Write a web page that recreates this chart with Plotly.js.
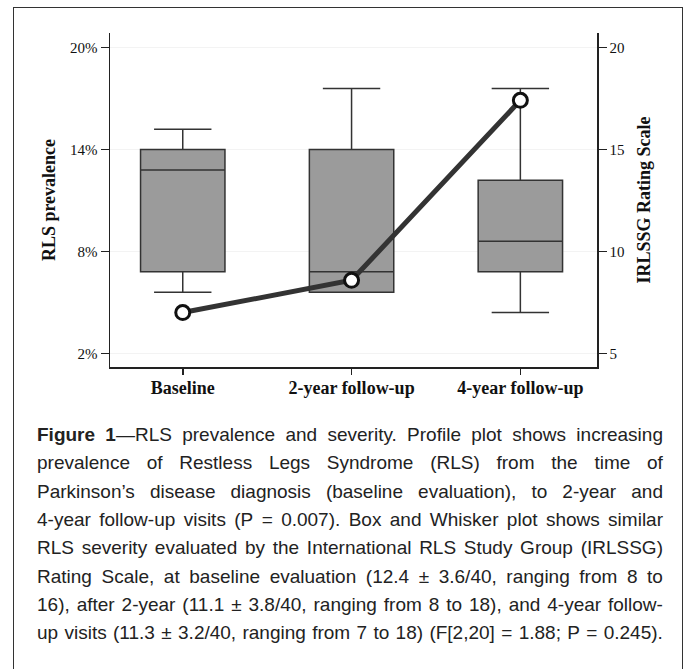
<!DOCTYPE html>
<html>
<head>
<meta charset="utf-8">
<script src="https://cdn.plot.ly/plotly-3.0.1.min.js"></script>
<style>
html,body{margin:0;padding:0;background:#fff;overflow:hidden;}
#wrap{position:relative;width:689px;height:669px;}
#chart{position:absolute;left:0;top:0;width:689px;height:669px;}
#frame{position:absolute;left:13px;top:7px;width:670px;height:720px;border:1.5px solid #333;box-sizing:border-box;pointer-events:none;}
#caption{position:absolute;left:37px;top:421px;width:626px;font-family:'Liberation Sans',Arial,sans-serif;font-size:19px;color:#222;}
.cl{display:flex;justify-content:space-between;height:28.33px;line-height:28.33px;white-space:nowrap;}
</style>
</head>
<body>
<div id="wrap">
  <div id="chart"></div>
  <div id="frame"></div>
  <div id="caption"></div>
</div>
<script>
// ---- data ----
const categories = ['Baseline', '2-year follow-up', '4-year follow-up'];
// RLS prevalence (%) – profile line, left axis
const prevalence = [4.4, 6.3, 16.9];
// IRLSSG Rating Scale – box & whisker, right axis
const irlssgMin    = [8, 8, 7];
const irlssgQ1     = [9, 8, 9];
const irlssgMedian = [14, 9, 10.5];
const irlssgQ3     = [15, 15, 13.5];
const irlssgMax    = [16, 18, 18];
const prevalenceTicks = [2, 8, 14, 20];
const prevalenceTickLabels = ['2%', '8%', '14%', '20%'];
const irlssgTicks = [5, 10, 15, 20];

const captionLines = [
  '<b>Figure</b> <b>1</b>—RLS prevalence and severity. Profile plot shows increasing',
  'prevalence of Restless Legs Syndrome (RLS) from the time of',
  'Parkinson’s disease diagnosis (baseline evaluation), to 2-year and',
  '4-year follow-up visits (P = 0.007). Box and Whisker plot shows similar',
  'RLS severity evaluated by the International RLS Study Group (IRLSSG)',
  'Rating Scale, at baseline evaluation (12.4 ± 3.6/40, ranging from 8 to',
  '16), after 2-year (11.1 ± 3.8/40, ranging from 8 to 18), and 4-year follow-',
  'up visits (11.3 ± 3.2/40, ranging from 7 to 18) (F[2,20] = 1.88; P = 0.245).'
];

// ---- traces ----
const serif = "'Liberation Serif', 'Times New Roman', serif";

const boxTrace = {
  type: 'box',
  x: categories,
  lowerfence: irlssgMin,
  q1: irlssgQ1,
  median: irlssgMedian,
  q3: irlssgQ3,
  upperfence: irlssgMax,
  yaxis: 'y',
  width: 0.5,
  whiskerwidth: 0.68,
  fillcolor: '#9b9b9b',
  line: {color: '#333333', width: 1.5},
  boxpoints: false,
  hoverinfo: 'skip',
  showlegend: false
};

const lineTrace = {
  type: 'scatter',
  mode: 'lines+markers',
  x: categories,
  y: prevalence,
  yaxis: 'y2',
  line: {color: '#333333', width: 5},
  marker: {size: 14, color: '#ffffff', line: {color: '#111111', width: 3}},
  showlegend: false,
  cliponaxis: false
};

const layout = {
  width: 689,
  height: 669,
  margin: {l: 110, r: 92, t: 33, b: 302},
  paper_bgcolor: '#ffffff',
  plot_bgcolor: '#ffffff',
  showlegend: false,
  xaxis: {
    type: 'category',
    range: [-0.431, 2.454],
    showline: true,
    linecolor: '#222',
    linewidth: 1.5,
    ticks: 'outside',
    ticklen: 6,
    tickcolor: '#222',
    tickwidth: 1.5,
    showgrid: false,
    zeroline: false,
    tickfont: {family: serif, size: 18, color: '#111', weight: 'bold'},
    ticklabelstandoff: -2
  },
  // rating scale on the right (primary, so boxes sit below the profile line)
  yaxis: {
    side: 'right',
    range: [4.327, 20.722],
    tickvals: irlssgTicks,
    showline: true,
    linecolor: '#222',
    linewidth: 1.5,
    ticks: 'outside',
    ticklen: 8,
    tickcolor: '#222',
    tickwidth: 1.5,
    showgrid: true,
    gridcolor: '#f3f3f3',
    zeroline: false,
    tickfont: {family: serif, size: 15, color: '#111'},
    title: {text: 'IRLSSG Rating Scale', standoff: 14,
            font: {family: serif, size: 18, color: '#111', weight: 'bold'}}
  },
  // prevalence on the left
  yaxis2: {
    overlaying: 'y',
    side: 'left',
    range: [1.193, 20.866],
    tickmode: 'array',
    tickvals: prevalenceTicks,
    ticktext: prevalenceTickLabels,
    showline: true,
    linecolor: '#222',
    linewidth: 1.5,
    ticks: 'outside',
    ticklen: 8,
    tickcolor: '#222',
    tickwidth: 1.5,
    showgrid: false,
    zeroline: false,
    tickfont: {family: serif, size: 15, color: '#111'},
    title: {text: 'RLS prevalence', standoff: 9,
            font: {family: serif, size: 18, color: '#111', weight: 'bold'}}
  }
};

Plotly.newPlot('chart', [boxTrace, lineTrace], layout, {staticPlot: true, displayModeBar: false});

// ---- caption (justified lines) ----
const cap = document.getElementById('caption');
captionLines.forEach(function (ln) {
  const row = document.createElement('div');
  row.className = 'cl';
  ln.split(' ').forEach(function (w) {
    const s = document.createElement('span');
    s.innerHTML = w;
    row.appendChild(s);
  });
  cap.appendChild(row);
});
</script>
</body>
</html>
